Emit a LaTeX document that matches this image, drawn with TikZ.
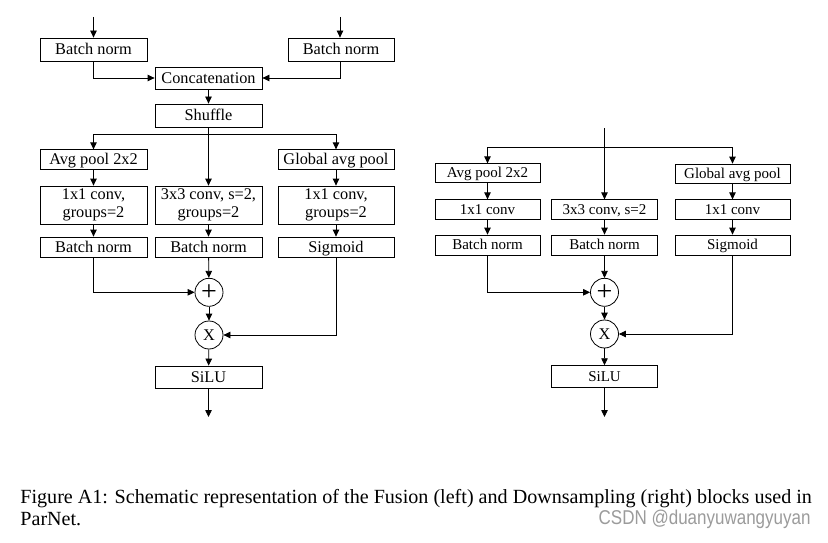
\documentclass[tikz,border=0pt]{standalone}
\usepackage{fontspec}
\setmainfont{Liberation Serif}
\newfontfamily\wmfont{Liberation Sans}
\usetikzlibrary{arrows.meta}
\definecolor{wmgray}{RGB}{155,155,155}

\begin{document}
\begin{tikzpicture}[x=1pt, y=-1pt, line width=0.8pt,
  blk/.style={draw, inner sep=0pt, text height=14.7pt, text depth=3.9pt, font=\fontsize{16.3}{18.5}\selectfont},
  blktwo/.style={draw, inner sep=0pt, align=center, font=\fontsize{16.3}{18.5}\selectfont},
  blks/.style={draw, inner sep=0pt, text height=13.5pt, text depth=3.6pt, font=\fontsize{15}{17}\selectfont},
  op/.style={draw, circle, inner sep=0pt, minimum size=28pt, font=\fontsize{16.3}{16.3}\selectfont},
  arr/.style={-{Triangle[length=7pt, width=6.5pt]}}]
\useasboundingbox (0,0) rectangle (828,543);

% fusion block (left)
\coordinate (inA) at (93.5,17);
\coordinate (inB) at (340,17);
\node (bnA) at (93.5,49.5) [blk, minimum width=107pt, minimum height=23pt]{Batch norm};
\node (bnB) at (341,49.5) [blk, minimum width=106pt, minimum height=23pt]{Batch norm};
\node (cat) at (208.5,78) [blk, minimum width=107pt, minimum height=22pt]{Concatenation};
\node (shuf) at (208.5,115.5) [blk, minimum width=107pt, minimum height=23pt]{Shuffle};

\node (apA) at (93.5,159.5) [blk, minimum width=107pt, minimum height=19.5pt]{Avg pool 2x2};
\node (gapA) at (336,159.5) [blk, minimum width=116pt, minimum height=19.5pt]{Global avg pool};

\node (c1A) at (93.5,205) [blktwo, minimum width=107pt, minimum height=38pt]{1x1 conv,\\groups=2};
\node (c3A) at (208.5,205) [blktwo, minimum width=107pt, minimum height=38pt]{3x3 conv, s=2,\\groups=2};
\node (c1gA) at (336,205) [blktwo, minimum width=116pt, minimum height=38pt]{1x1 conv,\\groups=2};

\node (bnA2) at (93.5,247) [blk, minimum width=107pt, minimum height=20pt]{Batch norm};
\node (bnA3) at (208.5,247) [blk, minimum width=107pt, minimum height=20pt]{Batch norm};
\node (sigA) at (336,247) [blk, minimum width=116pt, minimum height=20pt]{Sigmoid};

\node (plusA) at (209,292.3) [op]{\fontsize{28}{28}\selectfont +};
\node (mulA) at (209,335) [op]{X};
\node (siluA) at (208.5,377) [blk, minimum width=107pt, minimum height=22pt]{SiLU};
\coordinate (outA) at (208.5,417);
\coordinate (spA) at (208.5,134.5);

\draw [arr] (inA) -- (bnA.north);
\draw [arr] (inB) -- ([xshift=-1pt]bnB.north);
\draw [arr] (bnA.south) |- (cat.west);
\draw [arr] ([xshift=-1pt]bnB.south) |- (cat.east);
\draw [arr] (cat) -- (shuf);
\draw [arr] (shuf.south) -- (c3A.north);
\draw [arr] (spA) -| (apA.north);
\draw [arr] (spA) -| (gapA.north);
\draw [arr] (apA) -- (c1A);
\draw [arr] (gapA) -- (c1gA);
\draw [arr] (c1A) -- (bnA2);
\draw [arr] (c3A) -- (bnA3);
\draw [arr] (c1gA) -- (sigA);
\draw [arr] (bnA3) -- (plusA);
\draw [arr] (bnA2.south) |- (plusA.west);
\draw [arr] (plusA) -- (mulA);
\draw [arr] (sigA.south) |- (mulA.east);
\draw [arr] (mulA) -- (siluA);
\draw [arr] (siluA) -- (outA);

% downsampling block (right)
\coordinate (inC) at (604.5,128);
\coordinate (spC) at (604.5,147);
\node (apC) at (487.5,173) [blks, minimum width=105pt, minimum height=18.5pt]{Avg pool 2x2};
\node (gapC) at (732.5,173.5) [blks, minimum width=115pt, minimum height=19pt]{Global avg pool};

\node (c1C) at (487.5,209.5) [blks, minimum width=105pt, minimum height=19.5pt]{1x1 conv};
\node (c3C) at (604.5,209.5) [blks, minimum width=105.5pt, minimum height=19.5pt]{3x3 conv, s=2};
\node (c1gC) at (732.5,209.5) [blks, minimum width=115pt, minimum height=19.5pt]{1x1 conv};

\node (bnC2) at (487.5,245) [blks, minimum width=105pt, minimum height=20pt]{Batch norm};
\node (bnC3) at (604.5,245) [blks, minimum width=105.5pt, minimum height=20pt]{Batch norm};
\node (sigC) at (732.5,245) [blks, minimum width=115pt, minimum height=20pt]{Sigmoid};

\node (plusC) at (604.5,292.3) [op]{\fontsize{28}{28}\selectfont +};
\node (mulC) at (604.5,334) [op]{X};
\node (siluC) at (604.5,376.5) [blks, minimum width=106.5pt, minimum height=21.7pt]{SiLU};
\coordinate (outC) at (604.5,417);

\draw [arr] (inC) -- (c3C.north);
\draw [arr] (spC) -| (apC.north);
\draw [arr] (spC) -| (gapC.north);
\draw [arr] (apC) -- (c1C);
\draw [arr] (gapC) -- (c1gC);
\draw [arr] (c1C) -- (bnC2);
\draw [arr] (c3C) -- (bnC3);
\draw [arr] (c1gC) -- (sigC);
\draw [arr] (bnC3) -- (plusC);
\draw [arr] (bnC2.south) |- (plusC.west);
\draw [arr] (plusC) -- (mulC);
\draw [arr] (sigC.south) |- (mulC.east);
\draw [arr] (mulC) -- (siluC);
\draw [arr] (siluC) -- (outC);

% caption
\node (cap1) at (20,503) [anchor=base west, inner sep=0pt, font=\fontsize{20.1}{22}\selectfont]{Figure A1: Schematic representation of the Fusion (left) and Downsampling (right) blocks used in};
\node (cap2) at (20,525) [anchor=base west, inner sep=0pt, font=\fontsize{20.1}{22}\selectfont]{ParNet.};
\node (wm) at (811,524) [anchor=base east, inner sep=0pt, text=wmgray, font=\wmfont\fontsize{20}{20}\selectfont]{\scalebox{0.85}[1]{CSDN @duanyuwangyuyan}};
\end{tikzpicture}
\end{document}
